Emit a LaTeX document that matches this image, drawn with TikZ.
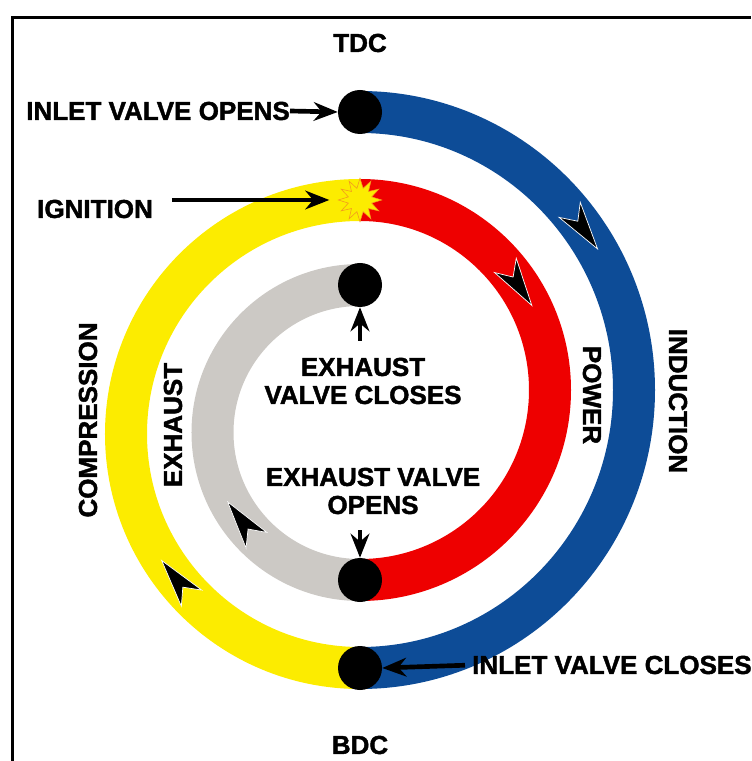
\documentclass[tikz,border=0pt]{standalone}
\usepackage{fontspec}
\setmainfont{Liberation Sans}[BoldFeatures={FakeBold=1.6}]
\usepackage{tikz}
\usetikzlibrary{shapes}
\usetikzlibrary{calc}
\usetikzlibrary{positioning, arrows.meta}
\definecolor{indblue}{HTML}{0D4C97}
\definecolor{powred}{HTML}{EE0000}
\definecolor{compyellow}{HTML}{FCEC00}
\definecolor{exgray}{HTML}{CCC9C5}
\definecolor{sparkedge}{HTML}{F39A1E}

\begin{document}
\begin{tikzpicture}[x=0.03cm, y=0.03cm,
    ring/.style={line width=1.26cm},
    dot/.style={draw=none, circle, fill=black, minimum size=1.32cm, inner sep=0pt},
    lbl/.style={font=\bfseries\fontsize{22.2}{23.9}\selectfont, inner sep=0pt, align=center},
    ptr/.style={line width=0.14cm, -{Stealth[length=0.72cm, width=0.56cm]}},
    chev/.pic={\filldraw[fill=black, draw=white, line width=0.6pt] (24,0) -- (-24,13) -- (-10,0) -- (-24,-13) -- cycle;}]

    \useasboundingbox (-360,-371) rectangle (391,390);

    % frame
    \draw[line width=0.09cm] (-347,-371) -- (-347,372) -- (391,372);

    \coordinate (O) at (0,0);
    \coordinate (Ocomp) at (0,-44);
    \coordinate (Oexh) at (0,-42.5);

    % Draw the four strokes as thick arcs
    \draw[ring, indblue] (0,278) arc[start angle=90, end angle=-90, x radius=274, y radius=278];
    \draw[ring, powred] (0,190) arc[start angle=90, end angle=-90, radius=190];
    \draw[ring, compyellow] (0,190) arc[start angle=90, end angle=270, radius=234];
    \draw[ring, exgray] (0,105) arc[start angle=90, end angle=270, radius=147.5];

    % direction marks
    \pic[rotate=-54.5] at ($(O)+(35.3:274 and 278)$) {chev};
    \pic[rotate=-56.6] at ($(O)+(33.4:190)$) {chev};
    \pic[rotate=128.4] at ($(Ocomp)+(218.4:234)$) {chev};
    \pic[rotate=126.9] at ($(Oexh)+(216.9:147.5)$) {chev};

    \node[star, star points=12, star point ratio=1.8, minimum size=1.3cm, inner sep=0pt, fill=compyellow, draw=sparkedge, line width=0.5pt] (spark) at (0,190) {};

    \node[dot] (tdc) at (0,278) {};
    \node[dot] (evc) at (0,105) {};
    \node[dot] (evo) at (0,-190) {};
    \node[dot] (bdc) at (0,-278) {};

    % Labels
    \node[lbl] (tdclbl) at (0,347) {TDC};
    \node[lbl] (bdclbl) at (0,-355) {BDC};
    \node[lbl, anchor=east] (ivo) at (-70,279) {INLET VALVE OPENS};
    \node[lbl] (ign) at (-265,181) {IGNITION};
    \node[lbl, anchor=west] (ivc) at (112,-275) {INLET VALVE CLOSES};
    \node[lbl, rotate=90] (comp) at (-272,-30) {COMPRESSION};
    \node[lbl, rotate=90] (exh) at (-187,-35) {EXHAUST};
    \node[lbl, rotate=-90] (pow) at (232,-5) {POWER};
    \node[lbl, rotate=-90] (ind) at (318,-11) {INDUCTION};
    \node[lbl] (evclbl) at (3,9) {EXHAUST\\VALVE CLOSES};
    \node[lbl] (evolbl) at (13,-101) {EXHAUST VALVE\\OPENS};

    % Draw pointer arrows
    \coordinate (igntail) at (-188,190);
    \draw[ptr] (ivo.east) -- (tdc.west);
    \draw[ptr, shorten >=0.24cm] (igntail) -- (spark.west);
    \draw[ptr, shorten <=0.5cm] (evclbl.north -| evc) -- (evc.south);
    \draw[ptr, shorten <=0.48cm] (evolbl.south -| evo) -- (evo.north);
    \draw[ptr, shorten <=0.21cm] (ivc.west) -- (bdc.east);
\end{tikzpicture}
\end{document}
